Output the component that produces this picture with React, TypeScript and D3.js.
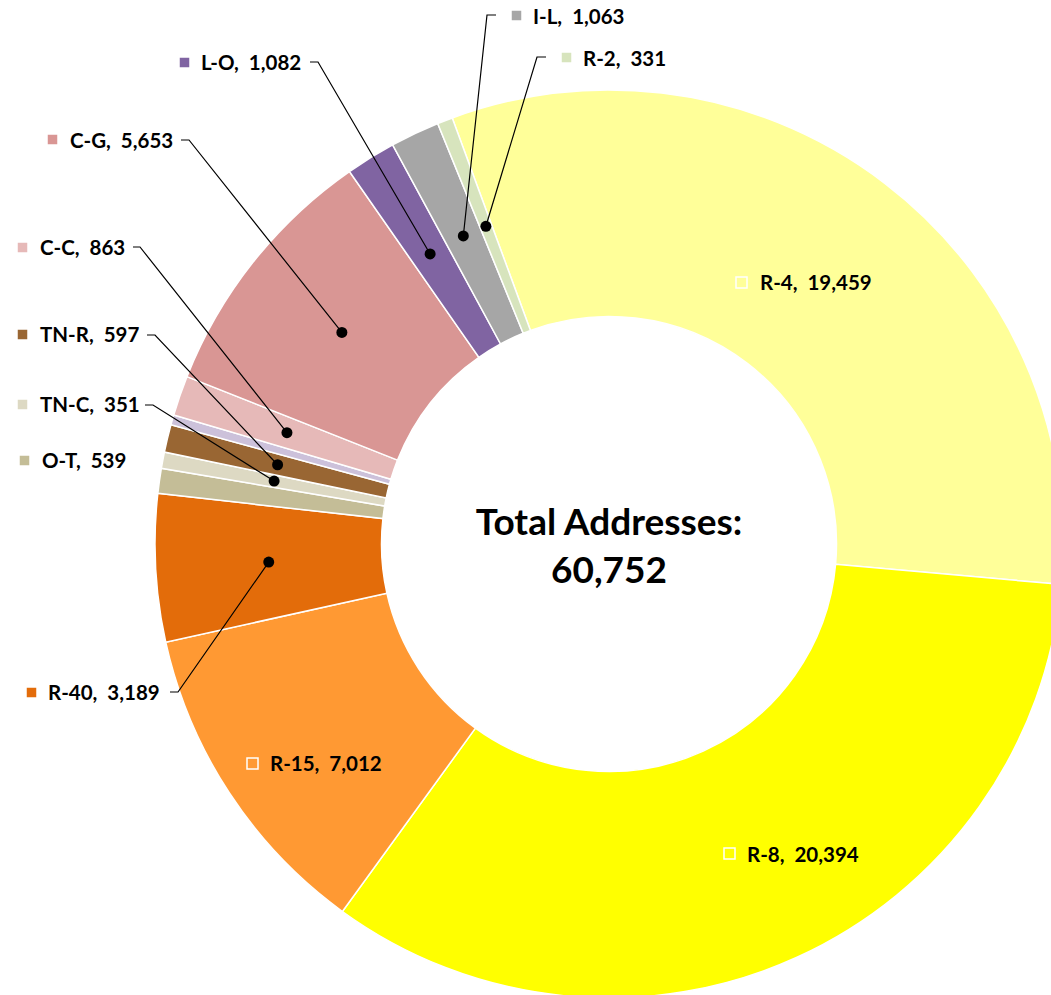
import React from "react";
import * as d3 from "d3";

const categories = ["R-4", "R-8", "R-15", "R-40", "O-T", "TN-C", "TN-R", "Other", "C-C", "C-G", "L-O", "I-L", "R-2"];
const values = [19459, 20394, 7012, 3189, 539, 351, 597, 219, 863, 5653, 1082, 1063, 331];
const colors = ["#FFFF99", "#FFFF00", "#FF9933", "#E36C0A", "#C4BD97", "#DDD9C3", "#996633", "#CCC1DA", "#E6B9B8", "#D99694", "#8064A2", "#A6A6A6", "#D7E4BD"];

// label layout: key box top-left, text x, text center y, leader elbow (null = no leader)
type Lay = { kx: number; ky: number; tx: number; ty: number; h?: [number, number, number] };
const labelLayout: Record<string, Lay> = {
  "R-4": { kx: 736, ky: 277, tx: 760, ty: 282 },
  "R-8": { kx: 724, ky: 848, tx: 747, ty: 854 },
  "R-15": { kx: 247, ky: 758, tx: 270, ty: 763 },
  "R-40": { kx: 26, ky: 687, tx: 48, ty: 692, h: [170, 178, 692] },
  "O-T": { kx: 19, ky: 455, tx: 42, ty: 460 },
  "TN-C": { kx: 17, ky: 399, tx: 40, ty: 404, h: [145, 153, 405] },
  "TN-R": { kx: 17, ky: 329, tx: 40, ty: 334, h: [147, 155, 335] },
  "C-C": { kx: 17, ky: 242, tx: 40, ty: 247, h: [133, 140, 247] },
  "C-G": { kx: 47, ky: 134, tx: 70, ty: 140, h: [181, 189, 140] },
  "L-O": { kx: 179, ky: 57, tx: 201, ty: 62, h: [310, 318, 62] },
  "I-L": { kx: 511, ky: 10, tx: 533, ty: 16, h: [496, 487, 15] },
  "R-2": { kx: 561, ky: 52, tx: 583, ty: 58, h: [546, 537, 57] },
};

const W = 1051;
const H = 995;
const cx = 609;
const cy = 544;
const rOuter = 454;
const rInner = 227.5;
const startDeg = -20.2;

export default function App() {
  const data = categories.map((c, i) => ({ name: c, value: values[i], color: colors[i] }));
  const total = d3.sum(values);
  const fmt = d3.format(",");
  const start = (startDeg * Math.PI) / 180;
  const pie = d3
    .pie<any>()
    .sort(null)
    .value((d: any) => d.value)
    .startAngle(start)
    .endAngle(start + 2 * Math.PI);
  const arcs = pie(data);
  const arc = d3.arc<any>().innerRadius(rInner).outerRadius(rOuter);
  const font = "Lato, 'Open Sans', sans-serif";

  return (
    <div style={{ position: "absolute", left: 0, top: 0 }}>
      <svg width={W} height={H} style={{ display: "block", background: "#fff" }}>
        <g transform={`translate(${cx},${cy})`}>
          {arcs.map((a) => (
            <path key={a.data.name} d={arc(a) as string} fill={a.data.color} stroke="#fff" strokeWidth={1.5} />
          ))}
        </g>
        {arcs.map((a) => {
          const lay = labelLayout[a.data.name];
          if (!lay || !lay.h) return null;
          const [c0x, c0y] = arc.centroid(a);
          const dx = cx + c0x;
          const dy = cy + c0y;
          const [h0, h1, hy] = lay.h;
          return (
            <g key={"l" + a.data.name}>
              <polyline points={`${h0},${hy} ${h1},${hy} ${dx},${dy}`} fill="none" stroke="#000" strokeWidth={1.2} />
              <circle cx={dx} cy={dy} r={5.5} fill="#000" />
            </g>
          );
        })}
        {arcs.map((a) => {
          const lay = labelLayout[a.data.name];
          if (!lay) return null;
          return (
            <g key={"t" + a.data.name}>
              <rect x={lay.kx} y={lay.ky} width={11} height={11} fill={a.data.color} stroke="#fff" strokeWidth={1.5} />
              <text
                x={lay.tx}
                y={lay.ty}
                dominantBaseline="central"
                fontFamily={font}
                fontWeight={700}
                fontSize={20.5}
                fill="#000"
                style={{ whiteSpace: "pre" }}
              >
                {`${a.data.name},  ${fmt(a.data.value)}`}
              </text>
            </g>
          );
        })}
        <text x={cx} y={cy - 24} textAnchor="middle" dominantBaseline="central" fontFamily={font} fontWeight={700} fontSize={37} fill="#000">
          Total Addresses:
        </text>
        <text x={cx} y={cy + 24} textAnchor="middle" dominantBaseline="central" fontFamily={font} fontWeight={700} fontSize={37} fill="#000">
          {fmt(total)}
        </text>
      </svg>
    </div>
  );
}
